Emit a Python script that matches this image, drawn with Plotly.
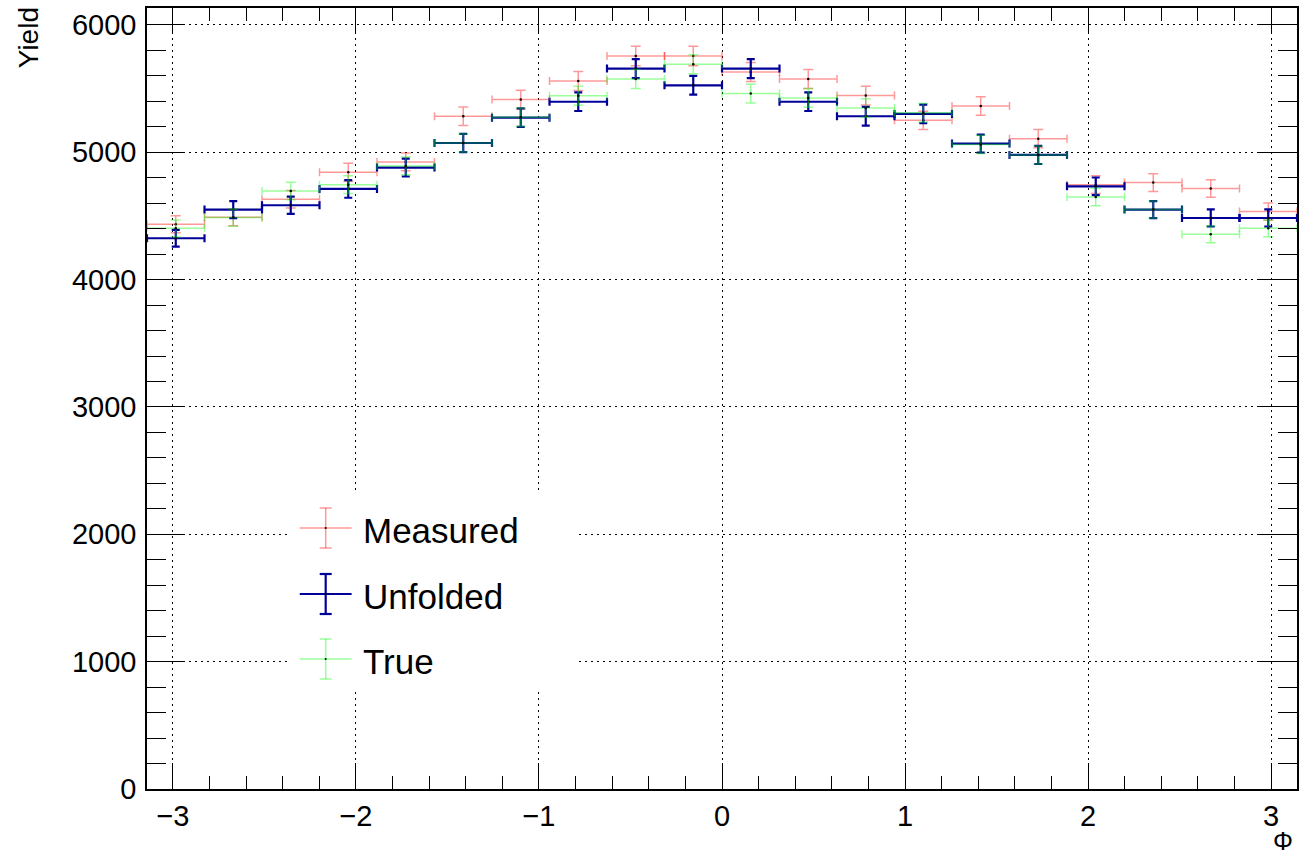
import numpy as np
import plotly.graph_objects as go

# ---- data -------------------------------------------------------------
n_bins = 20
phi_min, phi_max = -np.pi, np.pi
bin_edges = np.linspace(phi_min, phi_max, n_bins + 1)
bin_centers = 0.5 * (bin_edges[:-1] + bin_edges[1:])
bin_half = 0.5 * (bin_edges[1:] - bin_edges[:-1])

measured = [4435, 4490, 4631, 4843, 4924, 5283, 5414, 5560, 5756, 5756,
            5630, 5576, 5445, 5251, 5363, 5107, 4746, 4762, 4715, 4534]
measured_err = [67, 67, 68, 70, 70, 73, 74, 75, 76, 76,
                75, 75, 74, 72, 73, 71, 69, 69, 69, 67]

unfolded = [4325, 4550, 4584, 4712, 4880, 5073, 5272, 5397, 5657, 5526,
            5657, 5397, 5283, 5301, 5068, 4979, 4733, 4550, 4484, 4484]
unfolded_err = [66, 67, 68, 69, 70, 71, 73, 73, 75, 74,
                75, 73, 73, 73, 71, 71, 69, 67, 67, 67]

true_vals = [4403, 4487, 4696, 4746, 4893, 5073, 5275, 5444, 5576, 5691,
             5461, 5427, 5348, 5310, 5062, 4979, 4649, 4550, 4356, 4403]
true_err = [66, 67, 69, 69, 70, 71, 73, 74, 75, 75,
            74, 74, 73, 73, 71, 71, 68, 67, 66, 66]

series_names = ["Measured", "Unfolded", "True"]
x_ticks = [-3, -2, -1, 0, 1, 2, 3]
y_ticks = [0, 1000, 2000, 3000, 4000, 5000, 6000]

RED = "rgba(255,0,0,0.4)"
BLUE = "rgb(0,0,153)"
GREEN = "rgba(0,255,0,0.4)"
FONT = "Liberation Sans, Arial, Helvetica, sans-serif"

W, H = 1299, 858
ML, MR, MT, MB = 147, 0, 8, 69
PW, PH = W - ML - MR, H - MT - MB


def px(xp):
    return (xp - ML) / PW


def py(yp):
    return (H - MB - yp) / PH


fig = go.Figure()


def add_series(vals, errs, color, lw, cap, name):
    fig.add_trace(go.Scatter(
        x=bin_centers, y=vals, mode="markers", name=name,
        marker=dict(color="black", size=2.5, line=dict(width=0)),
        error_x=dict(type="data", array=bin_half, symmetric=True,
                     color=color, thickness=lw, width=4),
        error_y=dict(type="data", array=errs, symmetric=True,
                     color=color, thickness=lw, width=cap),
        showlegend=False, hoverinfo="x+y"))


add_series(measured, measured_err, RED, 1.5, 5, series_names[0])
add_series(unfolded, unfolded_err, BLUE, 2.2, 4, series_names[1])
add_series(true_vals, true_err, GREEN, 1.5, 5, series_names[2])

axis_common = dict(
    showline=True, linecolor="black", linewidth=1.5, mirror="allticks",
    ticks="inside", tickcolor="black", tickwidth=1.2,
    showgrid=True, gridcolor="black", gridwidth=1.2, griddash="2px,4px",
    zeroline=False,
    tickfont=dict(family=FONT, size=29, color="black"),
)

fig.update_xaxes(
    range=[phi_min, phi_max], tickmode="array", tickvals=x_ticks,
    ticklen=26,
    minor=dict(ticks="inside", ticklen=13, tickcolor="black", tickwidth=1.2,
               dtick=0.2, tick0=0, showgrid=False),
    ticklabelstandoff=0,
    **axis_common)
fig.update_yaxes(
    range=[0, 6133], tickmode="array", tickvals=y_ticks,
    ticklen=38,
    minor=dict(ticks="inside", ticklen=19, tickcolor="black", tickwidth=1.2,
               dtick=200, tick0=0, showgrid=False),
    ticklabelstandoff=3,
    **axis_common)

# ---- hand-built ROOT-style legend -----------------------------------
shapes = [dict(type="rect", xref="paper", yref="paper", layer="above",
               x0=px(290), x1=px(578), y0=py(690), y1=py(493),
               fillcolor="white", line=dict(width=0))]
annotations = []
leg_rows = [(528, RED, 1.5, 6), (594, BLUE, 2.2, 6), (659, GREEN, 1.5, 6)]
for (yc, col, lw, cap), name in zip(leg_rows, series_names):
    shapes.append(dict(type="line", xref="paper", yref="paper", layer="above",
                       x0=px(300), x1=px(352), y0=py(yc), y1=py(yc),
                       line=dict(color=col, width=lw)))
    shapes.append(dict(type="line", xref="paper", yref="paper", layer="above",
                       x0=px(326), x1=px(326), y0=py(yc - 20), y1=py(yc + 20),
                       line=dict(color=col, width=lw)))
    for dy in (-20, 20):
        shapes.append(dict(type="line", xref="paper", yref="paper", layer="above",
                           x0=px(326 - cap), x1=px(326 + cap),
                           y0=py(yc + dy), y1=py(yc + dy),
                           line=dict(color=col, width=lw)))
    shapes.append(dict(type="circle", xref="paper", yref="paper", layer="above",
                       x0=px(325), x1=px(327), y0=py(yc + 1), y1=py(yc - 1),
                       fillcolor="black", line=dict(width=0)))
    annotations.append(dict(xref="paper", yref="paper", x=px(361), y=py(yc + 2),
                            xanchor="left", yanchor="middle", showarrow=False,
                            text=name, font=dict(family=FONT, size=35, color="black")))

# axis titles
annotations.append(dict(xref="paper", yref="paper", x=px(1297), y=py(857),
                        xanchor="right", yanchor="bottom", showarrow=False,
                        text="Φ", font=dict(family=FONT, size=25, color="black")))
annotations.append(dict(xref="paper", yref="paper", x=px(11), y=py(5),
                        xanchor="left", yanchor="top", showarrow=False, textangle=-90,
                        text="Yield", font=dict(family=FONT, size=28, color="black")))

fig.update_layout(
    width=W, height=H, autosize=False,
    margin=dict(l=ML, r=MR, t=MT, b=MB, pad=0),
    paper_bgcolor="white", plot_bgcolor="white",
    shapes=shapes, annotations=annotations,
    showlegend=False,
)

fig.write_html("out.html", config={"displayModeBar": False},
               post_script="document.body.style.margin='0';document.body.style.overflow='hidden';")
